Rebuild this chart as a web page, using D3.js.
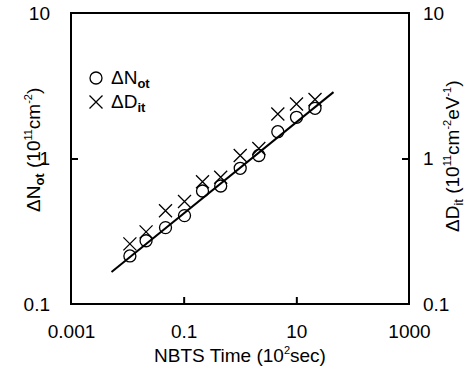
<!DOCTYPE html>
<html><head><meta charset="utf-8">
<script src="https://cdn.jsdelivr.net/npm/d3@7/dist/d3.min.js"></script>
<style>body{margin:0;background:#fff}svg{display:block;font-family:"Liberation Sans",Arial,sans-serif}</style>
</head><body>
<script>
const time = [0.0111, 0.0215, 0.0476, 0.1035, 0.216, 0.4545, 1.0085, 2.158, 4.69, 10.07, 21.46];
const nOt = [0.214, 0.272, 0.335, 0.405, 0.598, 0.647, 0.856, 1.049, 1.528, 1.92, 2.213];
const dIt = [0.259, 0.313, 0.438, 0.506, 0.693, 0.743, 1.049, 1.171, 2.022, 2.369, 2.544];
const fitX = [0.00524, 45.7];
const fitY = [0.166, 2.86];
const xTicks = [0.001, 0.1, 10, 1000];
const yTicks = [0.1, 1, 10];

const W = 468, H = 376;
const m = {l: 71, r: 59, t: 13, b: 72};
const svg = d3.select("body").append("svg").attr("width", W).attr("height", H);
const x = d3.scaleLog().domain([0.001, 1000]).range([m.l, W - m.r]);
const y = d3.scaleLog().domain([0.1, 10]).range([H - m.b, m.t]);
const fs = 19, sub = 13, sup = 11;

svg.append("rect").attr("x", m.l).attr("y", m.t).attr("width", W - m.r - m.l).attr("height", H - m.b - m.t)
  .attr("fill", "none").attr("stroke", "#000").attr("stroke-width", 2);

const xa = svg.append("g").attr("transform", `translate(0,${H - m.b})`)
  .call(d3.axisBottom(x).tickValues(xTicks).tickSize(-7).tickPadding(21).tickFormat(d => String(d)));
const yl = svg.append("g").attr("transform", `translate(${m.l},0)`)
  .call(d3.axisLeft(y).tickValues(yTicks).tickSize(-7).tickPadding(21).tickFormat(d => String(d)));
const yr = svg.append("g").attr("transform", `translate(${W - m.r},0)`)
  .call(d3.axisRight(y).tickValues(yTicks).tickSize(-7).tickPadding(14).tickFormat(d => String(d)));
[xa, yl, yr].forEach(g => {
  g.select(".domain").remove();
  g.selectAll(".tick line").attr("stroke", "#000").attr("stroke-width", 2);
  g.selectAll(".tick text").attr("font-size", fs).attr("fill", "#000").attr("font-family", "Liberation Sans, Arial, sans-serif");
});
xa.selectAll(".tick line").filter(d => d === 0.001 || d === 1000).remove();
yl.selectAll(".tick line").filter(d => d === 0.1 || d === 10).remove();
yr.selectAll(".tick line").filter(d => d === 0.1 || d === 10).remove();

svg.append("line").attr("x1", x(fitX[0])).attr("y1", y(fitY[0])).attr("x2", x(fitX[1])).attr("y2", y(fitY[1]))
  .attr("stroke", "#000").attr("stroke-width", 2);

svg.append("g").selectAll("circle").data(time).join("circle")
  .attr("cx", d => x(d)).attr("cy", (d, i) => y(nOt[i])).attr("r", 6)
  .attr("fill", "none").attr("stroke", "#000").attr("stroke-width", 1.3);

const cs = 6.5;
const crossPath = (cx, cy) => `M${cx - cs},${cy - cs}L${cx + cs},${cy + cs}M${cx - cs},${cy + cs}L${cx + cs},${cy - cs}`;
svg.append("g").selectAll("path").data(time).join("path")
  .attr("d", (d, i) => crossPath(x(d), y(dIt[i])))
  .attr("fill", "none").attr("stroke", "#000").attr("stroke-width", 1.3);

svg.append("circle").attr("cx", 96).attr("cy", 78).attr("r", 6).attr("fill", "none").attr("stroke", "#000").attr("stroke-width", 1.3);
svg.append("path").attr("d", crossPath(96, 102)).attr("stroke", "#000").attr("stroke-width", 1.3);
const lt1 = svg.append("text").attr("x", 111).attr("y", 84).attr("font-size", fs);
lt1.append("tspan").text("ΔN");
lt1.append("tspan").attr("font-size", sub).attr("font-weight", "bold").attr("dy", 4).text("ot");
const lt2 = svg.append("text").attr("x", 111).attr("y", 108).attr("font-size", fs);
lt2.append("tspan").text("ΔD");
lt2.append("tspan").attr("font-size", sub).attr("font-weight", "bold").attr("dy", 4).text("it");

const xl = svg.append("text").attr("x", x(1)).attr("y", 362).attr("text-anchor", "middle").attr("font-size", fs);
xl.append("tspan").text("NBTS Time (10");
xl.append("tspan").attr("font-size", sup).attr("dy", -8).text("2");
xl.append("tspan").attr("dy", 8).text("sec)");

const lyl = svg.append("text").attr("transform", `translate(40,212) rotate(-90)`).attr("font-size", fs);
lyl.append("tspan").text("ΔN");
lyl.append("tspan").attr("font-size", sub).attr("font-weight", "bold").attr("dy", 4).text("ot");
lyl.append("tspan").attr("dy", -4).text(" (10");
lyl.append("tspan").attr("font-size", sup).attr("dy", -8).text("11");
lyl.append("tspan").attr("dy", 8).text("cm");
lyl.append("tspan").attr("font-size", sup).attr("dy", -8).text("-2");
lyl.append("tspan").attr("dy", 8).text(")");

const ryl = svg.append("text").attr("transform", `translate(459,232) rotate(-90)`).attr("font-size", fs);
ryl.append("tspan").text("ΔD");
ryl.append("tspan").attr("font-size", sub).attr("dy", 4).text("it");
ryl.append("tspan").attr("dy", -4).text(" (10");
ryl.append("tspan").attr("font-size", sup).attr("dy", -8).text("11");
ryl.append("tspan").attr("dy", 8).text("cm");
ryl.append("tspan").attr("font-size", sup).attr("dy", -8).text("-2");
ryl.append("tspan").attr("dy", 8).text("eV");
ryl.append("tspan").attr("font-size", sup).attr("dy", -8).text("-1");
ryl.append("tspan").attr("dy", 8).text(")");
</script>
</body></html>
